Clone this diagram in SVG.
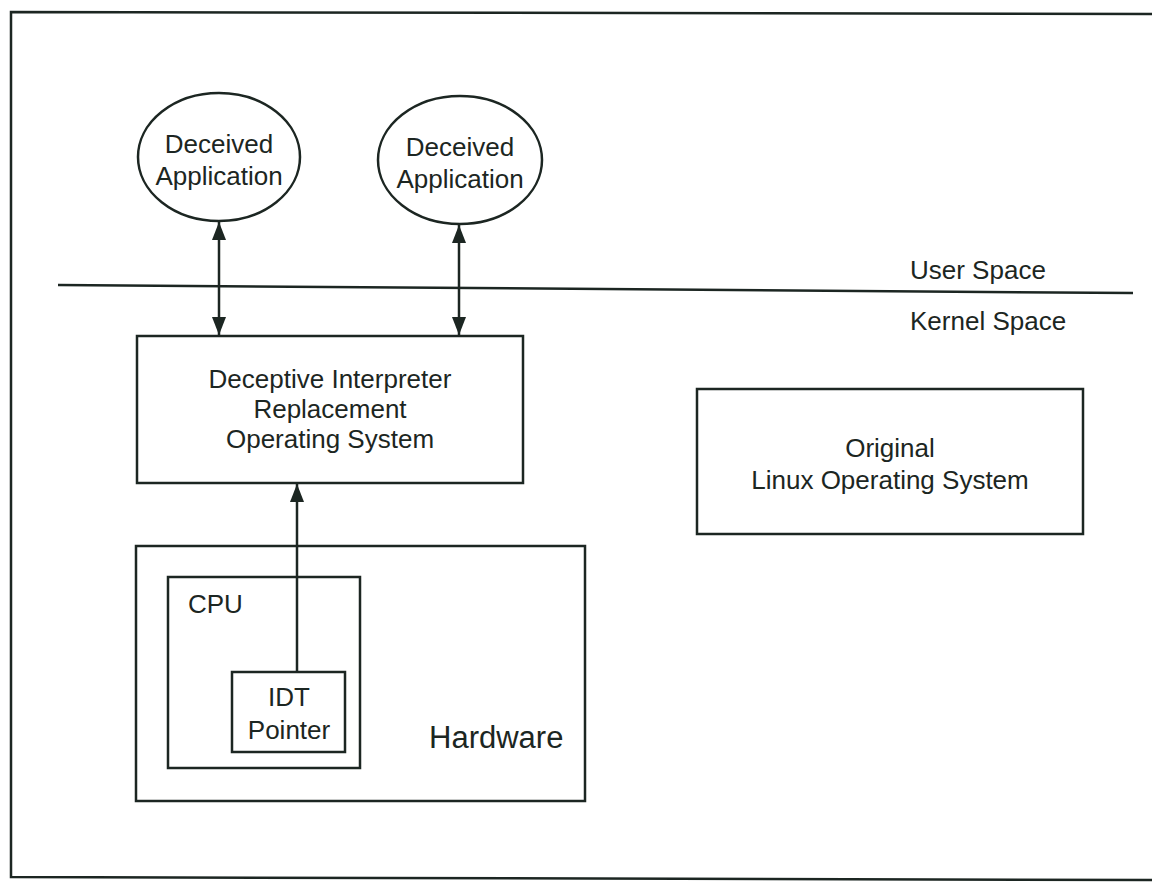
<svg xmlns="http://www.w3.org/2000/svg" width="1152" height="884" viewBox="0 0 1152 884">
  <style>
    .box { fill: none; stroke: #1c2622; stroke-width: 2.5; }
    .line { fill: none; stroke: #1c2622; stroke-width: 2.5; }
    .lbl { font-family: "Liberation Sans", Arial, sans-serif; font-size: 26px; fill: #1c2622; text-anchor: middle; }
    .lbl-l { font-family: "Liberation Sans", Arial, sans-serif; font-size: 26px; fill: #1c2622; }
  </style>
  <defs>
    <marker id="arrow" viewBox="0 0 18 14" refX="18" refY="7" markerWidth="18" markerHeight="14" markerUnits="userSpaceOnUse" orient="auto">
      <path d="M0,0 L18,7 L0,14 Z" fill="#1c2622"/>
    </marker>
    <marker id="arrow-start" viewBox="0 0 18 14" refX="0" refY="7" markerWidth="18" markerHeight="14" markerUnits="userSpaceOnUse" orient="auto">
      <path d="M18,0 L0,7 L18,14 Z" fill="#1c2622"/>
    </marker>
  </defs>

  <rect width="1152" height="884" fill="#ffffff"/>

  <!-- outer frame -->
  <path class="line" d="M1152,14 L11,12 L11,877 L1152,880"/>

  <!-- user / kernel boundary -->
  <g id="boundary">
    <line class="line" x1="58" y1="285" x2="1133" y2="293"/>
    <text class="lbl-l" x="910" y="279">User Space</text>
    <text class="lbl-l" x="910" y="330">Kernel Space</text>
  </g>

  <g id="app1">
    <ellipse class="box" cx="219" cy="157" rx="81" ry="64"/>
    <text class="lbl" x="219" y="153">Deceived</text>
    <text class="lbl" x="219" y="185">Application</text>
  </g>

  <g id="app2">
    <ellipse class="box" cx="460" cy="160" rx="82" ry="64"/>
    <text class="lbl" x="460" y="156">Deceived</text>
    <text class="lbl" x="460" y="188">Application</text>
  </g>

  <g id="diro">
    <rect class="box" x="137" y="336" width="386" height="147"/>
    <text class="lbl" x="330" y="388">Deceptive Interpreter</text>
    <text class="lbl" x="330" y="418">Replacement</text>
    <text class="lbl" x="330" y="448">Operating System</text>
  </g>

  <g id="linux">
    <rect class="box" x="697" y="389" width="386" height="145"/>
    <text class="lbl" x="890" y="457">Original</text>
    <text class="lbl" x="890" y="489">Linux Operating System</text>
  </g>

  <g id="hardware">
    <rect class="box" x="136" y="546" width="449" height="255"/>
    <text class="lbl-l" x="429" y="748" style="font-size:31px">Hardware</text>
  </g>

  <g id="cpu">
    <rect class="box" x="168" y="577" width="192" height="191"/>
    <text class="lbl-l" x="188" y="613">CPU</text>
  </g>

  <g id="idt">
    <rect class="box" x="232" y="672" width="113" height="80"/>
    <text class="lbl" x="289" y="706">IDT</text>
    <text class="lbl" x="289" y="739">Pointer</text>
  </g>

  <!-- connectors -->
  <g id="connectors">
    <line class="line" x1="219" y1="222" x2="219" y2="335" marker-start="url(#arrow-start)" marker-end="url(#arrow)"/>
    <line class="line" x1="459" y1="225" x2="459" y2="335" marker-start="url(#arrow-start)" marker-end="url(#arrow)"/>
    <line class="line" x1="297" y1="672" x2="297" y2="484" marker-end="url(#arrow)"/>
  </g>
</svg>
